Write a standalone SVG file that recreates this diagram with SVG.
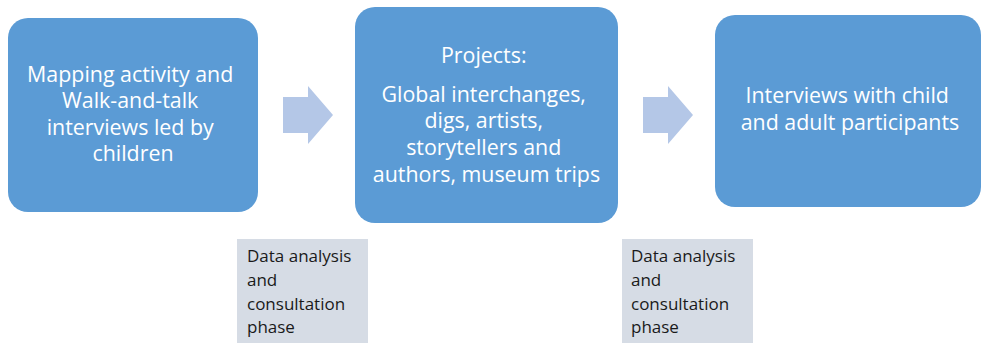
<svg xmlns="http://www.w3.org/2000/svg" width="982" height="343" viewBox="0 0 982 343">
  <defs>
    <style>
      .step { fill: #5b9bd5; }
      .step-text { fill: #ffffff; font-family: "Open Sans", "Noto Sans", sans-serif; font-size: 21.4px; text-anchor: middle; }
      .flow { fill: #b4c7e7; }
      .phase { fill: #d6dce5; }
      .phase-text { fill: #1a1a1a; font-family: "Open Sans", "Noto Sans", sans-serif; font-size: 17px; }
    </style>
  </defs>

  <rect width="982" height="343" fill="#ffffff"/>

  <!-- process steps -->
  <g id="step-mapping">
    <rect class="step" x="8" y="18" width="250" height="194" rx="20" ry="20"/>
    <text class="step-text">
      <tspan x="133" y="82">Mapping activity and</tspan>
      <tspan x="133" y="108">Walk-and-talk</tspan>
      <tspan x="133" y="135">interviews led by</tspan>
      <tspan x="133" y="161">children</tspan>
    </text>
  </g>

  <g id="step-projects">
    <rect class="step" x="355" y="7" width="263" height="216" rx="20" ry="20"/>
    <text class="step-text">
      <tspan x="486.5" y="63">Projects:</tspan>
      <tspan x="486.5" y="102">Global interchanges,</tspan>
      <tspan x="486.5" y="128">digs, artists,</tspan>
      <tspan x="486.5" y="155">storytellers and</tspan>
      <tspan x="486.5" y="182">authors, museum trips</tspan>
    </text>
  </g>

  <g id="step-interviews">
    <rect class="step" x="715" y="15" width="266" height="192" rx="20" ry="20"/>
    <text class="step-text">
      <tspan x="850" y="103">Interviews with child</tspan>
      <tspan x="850" y="130">and adult participants</tspan>
    </text>
  </g>

  <!-- block arrows between steps -->
  <g id="connectors">
    <polygon class="flow" points="283,97 308,97 308,86 333,115 308,144 308,133 283,133"/>
    <polygon class="flow" points="643,97 668,97 668,86 693,115 668,144 668,133 643,133"/>
  </g>

  <!-- analysis phases -->
  <g id="phase-1">
    <rect class="phase" x="237" y="239" width="131" height="104"/>
    <text class="phase-text">
      <tspan x="247" y="262">Data analysis</tspan>
      <tspan x="247" y="286">and</tspan>
      <tspan x="247" y="310">consultation</tspan>
      <tspan x="247" y="333">phase</tspan>
    </text>
  </g>

  <g id="phase-2">
    <rect class="phase" x="622" y="239" width="131" height="104"/>
    <text class="phase-text">
      <tspan x="631" y="262">Data analysis</tspan>
      <tspan x="631" y="286">and</tspan>
      <tspan x="631" y="310">consultation</tspan>
      <tspan x="631" y="333">phase</tspan>
    </text>
  </g>
</svg>
